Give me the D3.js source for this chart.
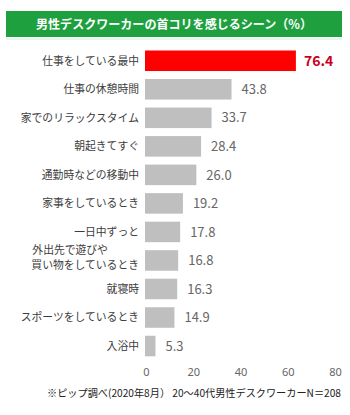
<!DOCTYPE html>
<html>
<head>
<meta charset="utf-8">
<script src="https://d3js.org/d3.v7.min.js"></script>
<style>
  body { margin: 0; background: #fff; }
  svg { display: block; font-family: "Noto Sans CJK JP", "Noto Sans", sans-serif; }
</style>
</head>
<body>
<div id="chart"></div>
<script>
// data
const title = "男性デスクワーカーの首コリを感じるシーン（%）";
const note = "※ピップ調べ(2020年8月）  20～40代男性デスクワーカーN＝208";
const categories = [
    "仕事をしている最中",
    "仕事の休憩時間",
    "家でのリラックスタイム",
    "朝起きてすぐ",
    "通勤時などの移動中",
    "家事をしているとき",
    "一日中ずっと",
    "外出先で遊びや\n買い物をしているとき",
    "就寝時",
    "スポーツをしているとき",
    "入浴中"
];
const values = [76.4, 43.8, 33.7, 28.4, 26.0, 19.2, 17.8, 16.8, 16.3, 14.9, 5.3];
const tickValues = [0, 20, 40, 60, 80];

const width = 350, height = 415;

const svg = d3.select("#chart")
    .append("svg")
    .attr("width", width)
    .attr("height", height);

/////////////
/// Title ///
/////////////

svg.append("rect")
    .attr("x", 6).attr("y", 11)
    .attr("width", 336).attr("height", 26)
    .attr("fill", "#1ea03f");

svg.append("rect")
    .attr("x", 6).attr("y", 38)
    .attr("width", 336).attr("height", 2)
    .attr("fill", "#e6f7ee");

svg.append("text")
    .attr("x", 174).attr("y", 28.5)
    .attr("text-anchor", "middle")
    .attr("fill", "#fff")
    .attr("font-weight", "bold")
    .attr("font-size", "12.3px")
    .attr("textLength", 276)
    .attr("lengthAdjust", "spacingAndGlyphs")
    .text(title);

//////////////
/// Scales ///
//////////////

let x = d3.scaleLinear()
    .domain([0, 80])
    .range([145, 303]);

// the tick labels in the source sit on a wider spacing than the bars
let xTick = d3.scaleLinear()
    .domain([0, 80])
    .range([146, 335]);

let y = d3.scaleBand()
    .domain(categories)
    .range([46.5, 360.3])
    .paddingInner(0.28)
    .paddingOuter(0.14);

////////////
/// Bars ///
////////////

svg.selectAll(".bar")
    .data(categories)
    .enter()
    .append("rect")
    .attr("class", "bar")
    .attr("x", x(0))
    .attr("y", d => y(d))
    .attr("width", (d, i) => x(values[i]) - x(0))
    .attr("height", y.bandwidth())
    .attr("fill", (d, i) => i === 0 ? "#ff0000" : "#bfbfbf");

svg.selectAll(".val")
    .data(categories)
    .enter()
    .append("text")
    .attr("class", "val")
    .attr("x", (d, i) => x(values[i]) + (i === 0 ? 8 : 10))
    .attr("y", d => y(d) + y.bandwidth() / 2)
    .attr("dy", "0.36em")
    .attr("font-size", (d, i) => i === 0 ? "14px" : "13px")
    .attr("font-weight", (d, i) => i === 0 ? "bold" : "normal")
    .attr("fill", (d, i) => i === 0 ? "#c8001e" : "#666")
    .text((d, i) => values[i].toFixed(1));

//////////////
/// Labels ///
//////////////

const labelRight = 139;

categories.forEach(c => {
    let lines = c.split("\n");
    let cy = y(c) + y.bandwidth() / 2;
    if (lines.length === 1) {
        svg.append("text")
            .attr("x", labelRight)
            .attr("y", cy)
            .attr("dy", "0.36em")
            .attr("text-anchor", "end")
            .attr("font-size", "10.8px")
            .attr("fill", "#3c3c3c")
            .text(c);
    } else {
        let second = svg.append("text")
            .attr("x", labelRight)
            .attr("y", cy + 5)
            .attr("dy", "0.36em")
            .attr("text-anchor", "end")
            .attr("font-size", "10.8px")
            .attr("fill", "#3c3c3c")
            .text(lines[1]);
        let left = labelRight - second.node().getComputedTextLength();
        svg.append("text")
            .attr("x", left + 1)
            .attr("y", cy - 10)
            .attr("dy", "0.36em")
            .attr("font-size", "10.8px")
            .attr("fill", "#3c3c3c")
            .text(lines[0]);
    }
});

////////////
/// Axis ///
////////////

let xAxis = svg.append("g")
    .attr("transform", "translate(0,364)")
    .call(d3.axisBottom(xTick).tickValues(tickValues).tickSize(0).tickPadding(4));

xAxis.select(".domain").remove();
xAxis.selectAll("text")
    .attr("font-family", "\"Noto Sans\", sans-serif")
    .attr("font-size", "11px")
    .attr("fill", "#666");

////////////
/// Note ///
////////////

svg.append("text")
    .attr("x", 47)
    .attr("y", 397)
    .attr("font-size", "10.5px")
    .attr("fill", "#222")
    .attr("textLength", 294)
    .attr("lengthAdjust", "spacingAndGlyphs")
    .text(note);
</script>
</body>
</html>
